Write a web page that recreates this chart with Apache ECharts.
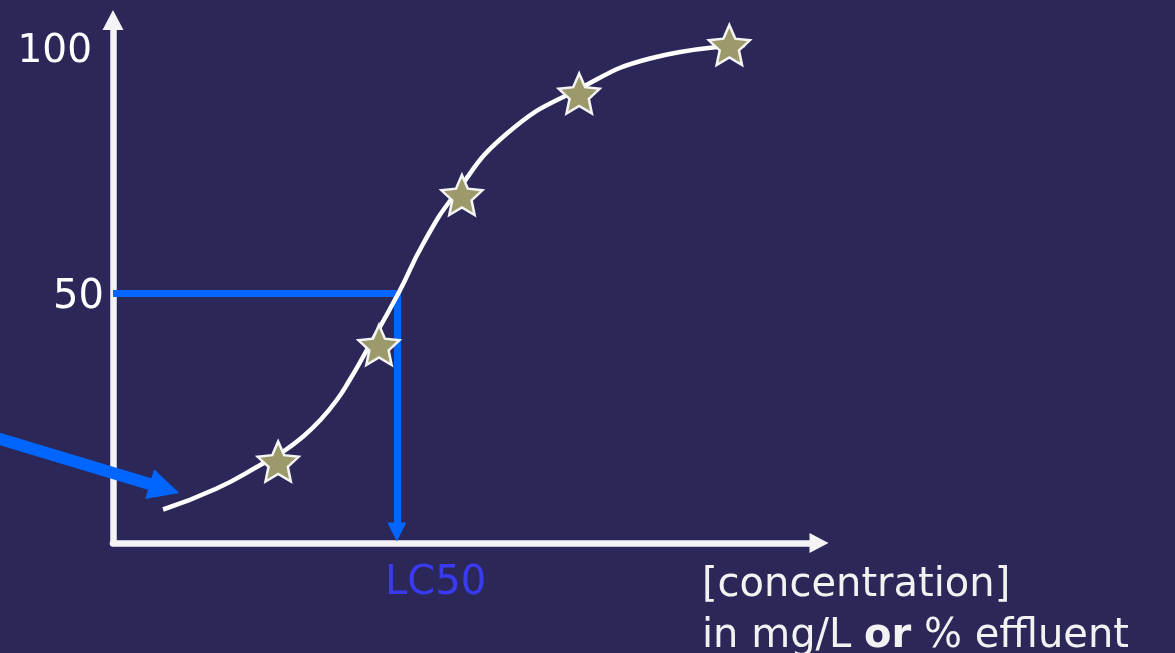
<!DOCTYPE html>
<html>
<head>
<meta charset="utf-8">
<script src="https://cdn.jsdelivr.net/npm/echarts@6/dist/echarts.min.js"></script>
<style>
html,body{margin:0;padding:0;background:#2b2859;}
#c{width:1175px;height:653px;}
</style>
</head>
<body>
<div id="c"></div>
<script>
// ---- data ----
const curveX = [7.0, 14.5, 20.6, 23.8, 26.6, 29.0, 31.3, 33.1, 35.0, 39.9, 43.4, 47.6, 55.1, 65.3, 75.1, 88.4];
const curveY = [6.7, 10.9, 15.6, 18.3, 21.3, 24.6, 28.6, 32.6, 37.3, 49.9, 59.9, 69.3, 81.9, 90.9, 96.9, 99.6];
const starX = [23.1, 37.2, 48.8, 65.2, 86.2];
const starY = [16.3, 39.6, 69.6, 89.9, 99.6];
const yTickLabels = [50, 100];
const lc50X = 39.7;
const lc50Y = 50;
const lc50ArrowEndY = 2.2;
const pointerStart = [-16.5, 21.1];
const pointerEnd = [7.2, 10.9];
const lc50Label = 'LC50';
const xTitleLine1 = '[concentration]';
const xTitleLine2 = ['in mg/L ', 'or', ' % effluent'];

// ---- styling ----
const FONT = '"DejaVu Sans", Verdana, sans-serif';
const BLUE = '#0066ff';

function starPath(inner) {
  const pts = [];
  for (let i = 0; i < 10; i++) {
    const r = i % 2 === 0 ? 50 : 50 * inner;
    const a = -Math.PI / 2 + i * Math.PI / 5;
    pts.push((50 + r * Math.cos(a)).toFixed(2) + ',' + (50 + r * Math.sin(a)).toFixed(2));
  }
  return 'path://M' + pts.join(' L') + ' Z';
}
const TRI = 'path://M10,0 L20,19 L0,19 Z';

const curveData = curveX.map((x, i) => [x, curveY[i]]);
const starData = starX.map((x, i) => [x, starY[i]]);

const chart = echarts.init(document.getElementById('c'), null, {renderer: 'canvas'});
chart.setOption({
  backgroundColor: '#2b2859',
  animation: false,
  grid: {left: 113, right: 356, top: 20, bottom: 110},
  xAxis: {
    type: 'value', min: 0, max: 98.74,
    axisLine: {show: true, onZero: false, symbol: ['none', TRI], symbolSize: [21, 19],
      lineStyle: {color: '#f4f4f6', width: 6.5}},
    axisTick: {show: false}, axisLabel: {show: false}, splitLine: {show: false}
  },
  yAxis: {
    type: 'value', min: 0, max: 104.6, interval: 50,
    axisLine: {show: true, onZero: false, symbol: ['none', TRI], symbolSize: [21, 20],
      lineStyle: {color: '#f4f4f6', width: 6.5}},
    axisTick: {show: false}, splitLine: {show: false},
    axisLabel: {
      margin: 9, color: '#ffffff', fontFamily: FONT, fontSize: 40,
      formatter: v => {
        if (v === yTickLabels[1]) return '{h|' + v + '}';
        if (v === yTickLabels[0]) return '{m|' + v + '}';
        return '';
      },
      rich: {
        h: {color: '#ffffff', fontFamily: FONT, fontSize: 39, padding: [18, 12, 0, 0]},
        m: {color: '#ffffff', fontFamily: FONT, fontSize: 40, padding: [10, 0, 0, 0]}
      }
    }
  },
  graphic: [
    {type: 'text', left: 385, top: 564, z: 10,
      style: {text: lc50Label, fill: '#3a3af2', font: '40px ' + FONT}},
    {type: 'text', left: 702, top: 566, z: 10,
      style: {
        text: '{n|' + xTitleLine1 + '}\n{n|' + xTitleLine2[0] + '}{b|' + xTitleLine2[1] + '}{n|' + xTitleLine2[2] + '}',
        rich: {
          n: {fill: '#f2f2f2', fontFamily: FONT, fontSize: 40, lineHeight: 51},
          b: {fill: '#f2f2f2', fontFamily: FONT, fontSize: 40, fontWeight: 'bold', lineHeight: 51}
        }
      }}
  ],
  series: [
    {
      type: 'lines', coordinateSystem: 'cartesian2d', clip: false, z: 2,
      symbol: ['none', 'none'],
      lineStyle: {color: BLUE, width: 7, opacity: 1, curveness: 0},
      data: [{coords: [[0, lc50Y], [lc50X, lc50Y]]}]
    },
    {
      type: 'lines', coordinateSystem: 'cartesian2d', clip: false, z: 2,
      symbol: ['none', TRI], symbolSize: [21, 19],
      lineStyle: {color: BLUE, width: 7, opacity: 1, curveness: 0},
      data: [{coords: [[lc50X, lc50Y], [lc50X, lc50ArrowEndY]]}]
    },
    {
      type: 'lines', coordinateSystem: 'cartesian2d', clip: false, z: 5,
      symbol: ['none', TRI], symbolSize: [30, 31],
      lineStyle: {color: BLUE, width: 12, opacity: 1, curveness: 0},
      data: [{coords: [pointerStart, pointerEnd]}]
    },
    {
      type: 'line', data: curveData, smooth: 0.5, showSymbol: false, z: 3,
      lineStyle: {color: '#ffffff', width: 4.5}
    },
    {
      type: 'scatter', data: starData, z: 4,
      symbol: starPath(0.47), symbolSize: [41, 40],
      itemStyle: {color: '#9c9a6b', borderColor: '#f4f4f4', borderWidth: 2.5, opacity: 1}
    }
  ]
});
</script>
</body>
</html>
